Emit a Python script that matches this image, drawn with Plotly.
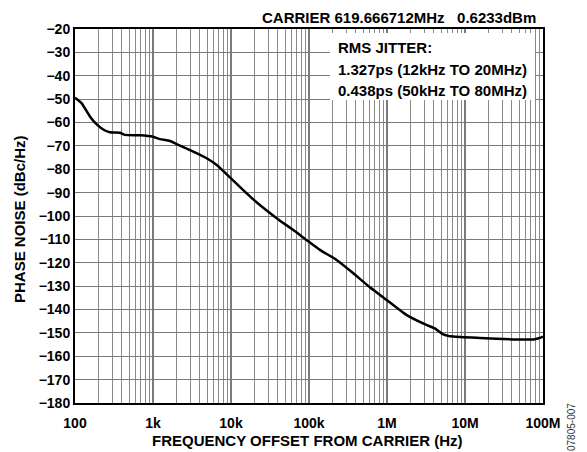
import plotly.graph_objects as go

freq_hz = [100, 122, 156, 190, 230, 281, 378, 437, 681, 1000, 1230, 1650, 2220, 3290,
           4870, 6560, 10000, 19300, 42500, 63000, 93000, 138000, 226000, 370000, 603000,
           990000, 1790000, 3200000, 4100000, 5260000, 7080000, 15500000, 41900000,
           75000000, 95500000, 100000000]
phase_noise_dbc = [-49.4, -51.8, -57.5, -60.8, -63.0, -64.2, -64.4, -65.3, -65.5, -66.1,
                   -67.1, -67.9, -69.9, -72.5, -75.3, -78.2, -83.9, -92.9, -102.0, -106.0,
                   -110.3, -114.5, -118.8, -124.5, -130.5, -135.9, -142.4, -146.6, -148.1,
                   -150.6, -151.6, -152.2, -152.8, -152.8, -151.9, -151.6]

x_tick_vals = [100, 1e3, 1e4, 1e5, 1e6, 1e7, 1e8]
x_tick_text = ["100", "1k", "10k", "100k", "1M", "10M", "100M"]

title_text = "CARRIER 619.666712MHz   0.6233dBm"
jitter_lines = ["RMS JITTER:", "1.327ps (12kHz TO 20MHz)", "0.438ps (50kHz TO 80MHz)"]

FONT = "Arial, Liberation Sans, sans-serif"

fig = go.Figure()
fig.add_trace(go.Scatter(x=freq_hz, y=phase_noise_dbc, mode="lines",
                         line=dict(color="black", width=2.5, shape="spline", smoothing=0.4),
                         showlegend=False, hoverinfo="skip"))

fig.update_layout(
    width=587, height=452,
    margin=dict(l=75, r=44, t=29, b=49, autoexpand=False),
    paper_bgcolor="white", plot_bgcolor="white",
    font=dict(family=FONT, size=14, color="black"),
    xaxis=dict(type="log", range=[2, 8], tickvals=x_tick_vals, ticktext=x_tick_text,
               showgrid=True, gridcolor="#7a7a7a", gridwidth=2,
               minor=dict(dtick="D1", showgrid=True, gridcolor="#8a8a8a", gridwidth=1, ticks=""),
               showline=True, linecolor="black", linewidth=2, mirror=True,
               ticks="", zeroline=False, ticklabelstandoff=6,
               tickfont=dict(family=FONT, size=14, color="black", weight="bold")),
    yaxis=dict(range=[-180, -20], dtick=10, tick0=-180,
               showgrid=True, gridcolor="#7a7a7a", gridwidth=1,
               showline=True, linecolor="black", linewidth=2, mirror=True,
               ticks="", zeroline=False,
               tickfont=dict(family=FONT, size=14, color="black", weight="bold")),
)

# white box behind jitter text (hides grid)
fig.add_shape(type="rect", xref="paper", yref="paper",
              x0=(330 - 75) / 468, x1=(535 - 75) / 468,
              y0=(403 - 100) / 374, y1=(403 - 33) / 374,
              fillcolor="white", line=dict(width=0), layer="above")

ys = [48, 69, 90]
for txt, ypx in zip(jitter_lines, ys):
    fig.add_annotation(text=f"<b>{txt}</b>", xref="paper", yref="paper",
                       x=(336 - 75) / 468, y=(403 - ypx) / 374,
                       xanchor="left", yanchor="middle", showarrow=False,
                       font=dict(family=FONT, size=15, color="black"))

fig.add_annotation(text=f"<b>{title_text.replace(' ', '&nbsp;')}</b>", xref="paper", yref="paper",
                   x=(538 - 75) / 468, y=(403 - 17) / 374,
                   xanchor="right", yanchor="middle", showarrow=False,
                   font=dict(family=FONT, size=15, color="black"))

fig.add_annotation(text="<b>PHASE NOISE (dBc/Hz)</b>", xref="paper", yref="paper",
                   x=(19 - 75) / 468, y=(403 - 219) / 374, textangle=-90,
                   xanchor="center", yanchor="middle", showarrow=False,
                   font=dict(family=FONT, size=15, color="black"))

fig.add_annotation(text="<b>FREQUENCY OFFSET FROM CARRIER (Hz)</b>", xref="paper", yref="paper",
                   x=(307.5 - 75) / 468, y=(403 - 440) / 374,
                   xanchor="center", yanchor="middle", showarrow=False,
                   font=dict(family=FONT, size=15, color="black"))

fig.add_annotation(text="07805-007", xref="paper", yref="paper",
                   x=(571 - 75) / 468, y=(403 - 427) / 374, textangle=-90,
                   xanchor="center", yanchor="middle", showarrow=False,
                   font=dict(family=FONT, size=10, color="#333333"))

fig.write_html("out.html", config={"displayModeBar": False},
               post_script="document.body.style.margin='0';document.body.style.overflow='hidden';")
